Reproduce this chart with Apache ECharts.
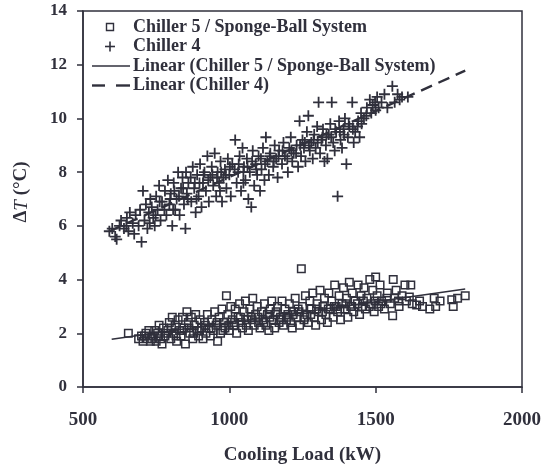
<!DOCTYPE html>
<html><head><meta charset="utf-8">
<script src="https://cdn.jsdelivr.net/npm/echarts@6/dist/echarts.min.js"></script>
<style>html,body{margin:0;padding:0;background:#fff}#c{width:554px;height:471px}</style>
</head><body><div id="c"></div>
<script>
// Chiller 5 / Sponge-Ball System: [Cooling Load kW, ΔT °C]
var chiller5 = [[655,2.0],[690,1.8],[700,1.9],[705,1.7],[715,2.0],[720,1.8],[725,2.1],[730,1.7],
[740,1.9],[745,2.1],[750,1.7],[755,2.0],[760,2.3],[765,1.8],[770,1.6],[775,2.2],[780,1.9],
[790,2.1],[795,2.4],[800,1.8],[805,2.6],[810,2.0],[815,2.3],[820,1.7],[825,2.5],[830,2.1],[835,1.9],[840,2.6],[845,2.2],[850,1.6],[855,2.8],[860,2.4],[865,2.0],[870,2.6],[875,1.8],[880,2.3],[885,2.7],[890,2.1],[895,1.9],[900,2.5],[905,2.2],[910,1.8],[915,2.4],[920,2.0],[925,2.7],[930,2.2],[935,1.9],[940,2.5],[945,2.1],[950,2.8],[955,2.3],[960,1.7],[965,2.6],[970,2.0],[975,2.9],[980,2.4],[985,2.2],[990,3.4],[995,2.7],
[1000,2.1],[1005,3.0],[1010,2.5],[1015,2.3],[1020,2.9],[1025,2.0],[1030,2.6],[1035,3.1],[1040,2.4],[1045,2.2],[1050,2.8],[1055,3.2],[1060,2.5],[1065,2.1],[1070,2.9],[1075,2.6],[1080,3.3],[1085,2.3],[1090,2.7],[1095,3.0],[1100,2.4],[1105,2.2],[1110,2.8],[1115,2.5],[1120,3.1],[1125,2.3],[1130,2.7],[1135,2.1],[1140,2.9],[1145,3.2],[1150,2.5],[1155,2.2],[1160,2.8],[1165,3.0],[1170,2.4],[1175,2.6],[1180,3.2],[1185,2.3],[1190,2.9],[1195,2.5],
[1200,2.7],[1205,3.1],[1210,2.4],[1215,2.2],[1220,2.8],[1225,3.3],[1230,2.6],[1235,2.9],[1240,2.3],[1246,4.4],[1250,3.0],[1255,2.5],[1260,3.4],[1265,2.7],[1270,2.4],[1275,3.2],[1280,2.9],[1285,3.5],[1290,2.6],[1295,2.3],[1300,3.1],[1305,2.8],[1310,3.6],[1315,2.5],[1320,3.0],[1325,3.3],[1330,2.7],[1335,2.4],[1340,3.5],[1345,2.9],[1350,3.2],[1355,2.6],[1360,3.8],[1365,3.0],[1370,2.8],[1375,3.4],[1380,2.5],[1385,3.1],[1390,3.7],[1395,2.9],
[1400,3.3],[1405,2.6],[1410,3.9],[1415,3.0],[1420,3.5],[1425,2.8],[1430,3.2],[1440,3.8],[1445,2.7],[1450,3.4],[1455,3.0],[1460,3.7],[1465,2.9],[1470,3.3],[1480,4.0],[1485,3.1],[1490,3.6],[1495,2.8],[1500,4.1],[1505,3.4],[1510,3.0],[1515,3.8],[1520,3.2],[1530,2.9],[1540,3.5],[1550,3.1],[1560,4.0],[1565,3.3],[1558,2.65],[1570,3.6],[1580,3.0],[1590,3.4],[1600,3.8],[1605,3.2],[1620,3.8],[1625,3.1],[1640,3.05],[1650,3.2],[1685,2.9],[1700,3.3],[1705,3.0],[1760,3.25],[1765,3.0],[1806,3.4],
[710,1.9],[735,1.8],[758,1.9],[785,2.0],[802,2.2],[818,1.9],[838,2.1],[862,2.2],[878,2.0],[898,2.1],[918,2.3],[938,2.2],[958,2.4],[978,2.1],[998,2.3],[1018,2.4],[1038,2.6],[1058,2.3],[1078,2.5],[1098,2.6],[1118,2.4],[1138,2.6],[1158,2.7],[1178,2.5],[1198,2.6],[1218,2.7],[1238,2.8],[1258,2.6],[1278,2.7],[1298,2.9],[1318,2.8],[1338,2.9],[1358,3.0],[1378,2.9],[1398,3.1],[1418,3.0],[1438,3.1],[1458,3.2],[1478,3.0],[1498,3.2],[1518,3.1],[1538,3.3],[1578,3.2],[1615,3.35],[1660,3.0],[1720,3.2],[1780,3.3]];

// Chiller 4: [Cooling Load kW, ΔT °C]
var chiller4 = [[590,5.8],[600,5.9],[610,5.6],[615,5.5],[625,6.0],[630,6.2],[640,5.9],[650,6.3],[655,5.8],[660,6.5],[670,6.1],[675,5.7],[680,6.4],[690,6.0],[695,6.6],[700,5.4],[705,7.3],[710,6.2],[715,6.8],[720,5.9],[725,6.5],[730,7.0],[740,6.3],[745,6.0],[750,7.1],[755,6.6],[760,7.5],[765,6.2],[770,6.9],[780,7.3],[785,6.4],[790,7.7],[795,6.8],
[800,7.2],[805,6.0],[810,7.6],[815,6.6],[820,7.0],[825,8.0],[830,6.4],[835,7.4],[840,7.8],[845,6.8],[850,5.9],[852,8.0],[855,7.2],[860,7.6],[870,6.9],[875,8.2],[880,7.4],[885,6.5],[890,7.9],[895,7.1],[900,8.3],[905,6.7],[910,7.6],[915,8.0],[920,7.3],[925,8.6],[930,6.9],[935,7.8],[940,8.2],[945,7.5],[950,8.7],[955,7.1],[960,8.0],[965,7.6],[970,8.4],[975,6.9],[980,7.8],[985,8.1],[990,7.4],[995,8.5],
[1000,7.9],[1005,7.1],[1010,8.3],[1020,9.2],[1025,7.6],[1030,8.0],[1035,8.6],[1040,7.3],[1045,8.9],[1050,8.2],[1055,7.7],[1060,8.5],[1065,7.0],[1070,8.0],[1075,6.7],[1080,8.8],[1085,7.5],[1090,8.3],[1095,7.9],[1100,8.6],[1105,7.3],[1110,8.1],[1115,8.9],[1120,7.7],[1125,9.3],[1130,8.4],[1135,7.9],[1140,8.7],[1150,8.2],[1155,9.0],[1160,8.5],[1165,7.8],[1170,8.8],[1180,8.3],[1185,9.1],[1190,8.6],
[1200,8.0],[1205,8.9],[1210,9.3],[1215,8.4],[1220,8.7],[1230,9.0],[1235,8.2],[1240,9.9],[1245,8.6],[1250,9.2],[1255,8.9],[1260,8.4],[1265,9.5],[1270,10.1],[1275,8.8],[1280,9.1],[1285,8.5],[1290,9.4],[1295,8.9],[1300,9.7],[1305,10.6],[1310,8.7],[1315,9.2],[1320,9.6],[1325,8.4],[1330,9.0],[1335,8.5],[1340,9.4],[1345,9.8],[1350,10.6],[1355,9.1],[1360,8.8],[1365,9.5],[1370,7.1],[1375,9.9],[1380,9.2],[1385,8.9],[1390,9.6],[1395,10.0],
[1400,8.3],[1405,9.3],[1410,9.7],[1420,10.6],[1425,9.1],[1430,9.5],[1440,9.9],[1445,9.3],[1450,10.2],[1460,10.0],[1470,10.4],[1480,10.7],[1485,10.2],[1490,10.5],[1500,10.3],[1505,10.8],[1510,10.4],[1520,10.6],[1540,10.4],[1557,11.2],[1565,10.6],[1582,10.7],[1590,10.8],
[735,6.7],[748,6.4],[762,6.9],[778,6.6],[798,7.0],[812,7.3],[828,7.1],[842,7.4],[858,7.0],[868,7.8],[882,7.6],[898,7.6],[912,7.9],[928,7.7],[942,7.9],[958,7.8],[972,8.0],[988,7.9],[1002,8.2],[1018,8.1],[1032,8.3],[1048,8.0],[1062,8.2],[1078,8.4],[1092,8.1],[1108,8.5],[1122,8.3],[1138,8.6],[1152,8.4],[1168,8.6],[1182,8.8],[1198,8.5],[1212,8.8],[1228,8.7],[1242,9.0],[1258,9.1],[1272,9.0],[1288,9.2],[1302,9.1],[1318,9.3],[1332,9.4],[1348,9.3],[1362,9.6],[1378,9.5],[1392,9.4],[1408,9.8],[1422,9.6],[1438,9.7],[1452,9.8],[1468,10.1],[1498,10.6],[1530,10.9],[1575,10.9],[1610,10.8],[1048,7.6],[968,7.3],[888,7.0],[808,6.6],[728,6.1],[648,6.0]];

// Linear trendline end points
var linear5 = [[598,1.78],[1806,3.65]];
var linear4 = [[590,5.8],[1806,11.78]];

var xTicks = [500,1000,1500,2000];
var yTicks = [0,2,4,6,8,10,12,14];
var legendNames = ['Chiller 5 / Sponge-Ball System','Chiller 4','Linear (Chiller 5 / Sponge-Ball System)','Linear (Chiller 4)'];

var ink = '#30303c';
var font = 'Liberation Serif';
var lfont = 'bold 18px "Liberation Serif"';
var rows = [27, 46.5, 66, 85.5];
var chart = echarts.init(document.getElementById('c'), null, {renderer:'canvas'});
chart.setOption({
  animation:false,
  backgroundColor:'#fff',
  grid:{left:83,right:32,top:11,bottom:84,show:true,borderColor:ink,borderWidth:1.5,backgroundColor:'transparent'},
  graphic:[
    {type:'rect',shape:{x:106.5,y:rows[0]-3.5,width:7,height:7},style:{fill:'none',stroke:ink,lineWidth:1.4}},
    {type:'line',shape:{x1:110,y1:rows[1]-5,x2:110,y2:rows[1]+5},style:{stroke:ink,lineWidth:1.6}},
    {type:'line',shape:{x1:105,y1:rows[1],x2:115,y2:rows[1]},style:{stroke:ink,lineWidth:1.6}},
    {type:'line',shape:{x1:92,y1:rows[2],x2:130,y2:rows[2]},style:{stroke:ink,lineWidth:1.6}},
    {type:'line',shape:{x1:92,y1:rows[3],x2:105,y2:rows[3]},style:{stroke:ink,lineWidth:2.4}},
    {type:'line',shape:{x1:116,y1:rows[3],x2:130,y2:rows[3]},style:{stroke:ink,lineWidth:2.4}},
    {type:'text',x:133,y:rows[0],style:{text:legendNames[0],font:lfont,fill:ink,verticalAlign:'middle'}},
    {type:'text',x:133,y:rows[1],style:{text:legendNames[1],font:lfont,fill:ink,verticalAlign:'middle'}},
    {type:'text',x:133,y:rows[2],style:{text:legendNames[2],font:lfont,fill:ink,verticalAlign:'middle'}},
    {type:'text',x:133,y:rows[3],style:{text:legendNames[3],font:lfont,fill:ink,verticalAlign:'middle'}}
  ],
  xAxis:{type:'value',min:xTicks[0],max:xTicks[xTicks.length-1],interval:500,
    axisLine:{lineStyle:{color:ink,width:1.5}},
    axisTick:{show:true,inside:false,length:6,lineStyle:{color:ink,width:1.5}},
    splitLine:{show:false},
    axisLabel:{margin:24,fontFamily:font,fontWeight:'bold',fontSize:19,color:ink,formatter:function(v){return String(v);}},
    name:'Cooling Load (kW)',nameLocation:'middle',nameGap:59,
    nameTextStyle:{fontFamily:font,fontWeight:'bold',fontSize:19,color:ink}
  },
  yAxis:{type:'value',min:yTicks[0],max:yTicks[yTicks.length-1],interval:2,
    axisLine:{lineStyle:{color:ink,width:1.5}},
    axisTick:{show:true,inside:false,length:6,lineStyle:{color:ink,width:1.5}},
    splitLine:{show:false},
    axisLabel:{margin:16,fontFamily:font,fontWeight:'bold',fontSize:17,color:ink},
    name:'{a|Δ}{i|T}{a| (°C)}',nameLocation:'middle',nameGap:52,nameRotate:90,
    nameTextStyle:{padding:[0,0,0,14],rich:{
      a:{fontFamily:font,fontWeight:'bold',fontSize:19,color:ink},
      i:{fontFamily:font,fontStyle:'italic',fontSize:19,color:ink}
    }}
  },
  series:[
    {name:legendNames[0],type:'scatter',data:chiller5,symbol:'rect',symbolSize:7.5,
      itemStyle:{color:'rgba(255,255,255,0)',borderColor:ink,borderWidth:1.5,opacity:1}},
    {name:legendNames[1],type:'scatter',data:chiller4,symbol:'path://M0,-1L0,1M-1,0L1,0',symbolSize:11,
      itemStyle:{color:'rgba(255,255,255,0)',borderColor:ink,borderWidth:1.8,opacity:1}},
    {name:legendNames[2],type:'line',data:linear5,symbol:'none',
      lineStyle:{color:ink,width:1.6,type:'solid'}},
    {name:legendNames[3],type:'line',data:linear4,symbol:'none',
      lineStyle:{color:ink,width:2.4,type:[12,7]}}
  ]
});
</script></body></html>
